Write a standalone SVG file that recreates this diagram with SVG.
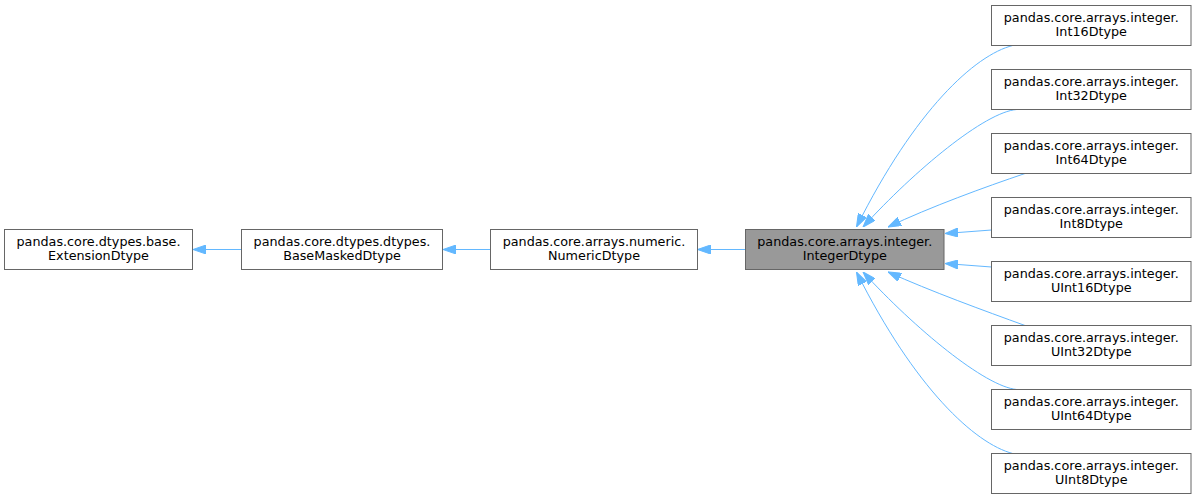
<svg xmlns="http://www.w3.org/2000/svg" width="1196" height="499" viewBox="0 0 1196 499">
<style>
rect.n{fill:#ffffff;stroke:#666666;stroke-width:1}
rect.cur{fill:#999999;stroke:#666666;stroke-width:1}
text{font-family:"DejaVu Sans","Liberation Sans",sans-serif;font-size:12.75px;fill:#000000;text-anchor:middle}
.e path{fill:none;stroke:#63b8ff;stroke-width:1;marker-end:url(#ah)}
</style>
<defs>
<marker id="ah" viewBox="0 0 13 9" refX="13" refY="4.5" markerWidth="13" markerHeight="9" markerUnits="userSpaceOnUse" orient="auto">
<path d="M0,0 L13,4.5 L0,9 z" fill="#63b8ff" stroke="#63b8ff" stroke-width="1"/>
</marker>
</defs>
<g id="edges" class="e">
<path d="M241.5,249.5 L193,249.5"/>
<path d="M490.5,249.5 L443,249.5"/>
<path d="M745.5,249.5 L697.5,249.5"/>
<path d="M1012.7,45.5 C975,55 915,110 856.5,227"/>
<path d="M1016.7,109.5 C985,112 915,170 863,227"/>
<path d="M1025,173.5 C985,187 930,207 888,227"/>
<path d="M991.5,230 L945,233.5"/>
<path d="M991.5,267 L945,263.5"/>
<path d="M1025,325.5 C985,311 930,291 888,272"/>
<path d="M1016.7,389.5 C985,386.6 915,328.6 863,272"/>
<path d="M1012.7,453.5 C975,443.6 915,388.6 856.5,272"/>
</g>
<g id="ExtensionDtype"><rect class="n" x="4.5" y="229.5" width="188" height="40"/><text x="98.5" y="245.5">pandas.core.dtypes.base.</text><text x="98.5" y="259.5">ExtensionDtype</text></g>
<g id="BaseMaskedDtype"><rect class="n" x="241.5" y="229.5" width="201" height="40"/><text x="342" y="245.5">pandas.core.dtypes.dtypes.</text><text x="342" y="259.5">BaseMaskedDtype</text></g>
<g id="NumericDtype"><rect class="n" x="490.5" y="229.5" width="207" height="40"/><text x="594" y="245.5">pandas.core.arrays.numeric.</text><text x="594" y="259.5">NumericDtype</text></g>
<g id="IntegerDtype"><rect class="cur" x="745.5" y="229.5" width="198.5" height="40"/><text x="844.75" y="245.5">pandas.core.arrays.integer.</text><text x="844.75" y="259.5">IntegerDtype</text></g>
<g id="Int16Dtype"><rect class="n" x="991.5" y="5.5" width="199.5" height="40"/><text x="1091.25" y="21.5">pandas.core.arrays.integer.</text><text x="1091.25" y="35.5">Int16Dtype</text></g>
<g id="Int32Dtype"><rect class="n" x="991.5" y="69.5" width="199.5" height="40"/><text x="1091.25" y="85.5">pandas.core.arrays.integer.</text><text x="1091.25" y="99.5">Int32Dtype</text></g>
<g id="Int64Dtype"><rect class="n" x="991.5" y="133.5" width="199.5" height="40"/><text x="1091.25" y="149.5">pandas.core.arrays.integer.</text><text x="1091.25" y="163.5">Int64Dtype</text></g>
<g id="Int8Dtype"><rect class="n" x="991.5" y="197.5" width="199.5" height="40"/><text x="1091.25" y="213.5">pandas.core.arrays.integer.</text><text x="1091.25" y="227.5">Int8Dtype</text></g>
<g id="UInt16Dtype"><rect class="n" x="991.5" y="261.5" width="199.5" height="40"/><text x="1091.25" y="277.5">pandas.core.arrays.integer.</text><text x="1091.25" y="291.5">UInt16Dtype</text></g>
<g id="UInt32Dtype"><rect class="n" x="991.5" y="325.5" width="199.5" height="40"/><text x="1091.25" y="341.5">pandas.core.arrays.integer.</text><text x="1091.25" y="355.5">UInt32Dtype</text></g>
<g id="UInt64Dtype"><rect class="n" x="991.5" y="389.5" width="199.5" height="40"/><text x="1091.25" y="405.5">pandas.core.arrays.integer.</text><text x="1091.25" y="419.5">UInt64Dtype</text></g>
<g id="UInt8Dtype"><rect class="n" x="991.5" y="453.5" width="199.5" height="40"/><text x="1091.25" y="469.5">pandas.core.arrays.integer.</text><text x="1091.25" y="483.5">UInt8Dtype</text></g>
</svg>
